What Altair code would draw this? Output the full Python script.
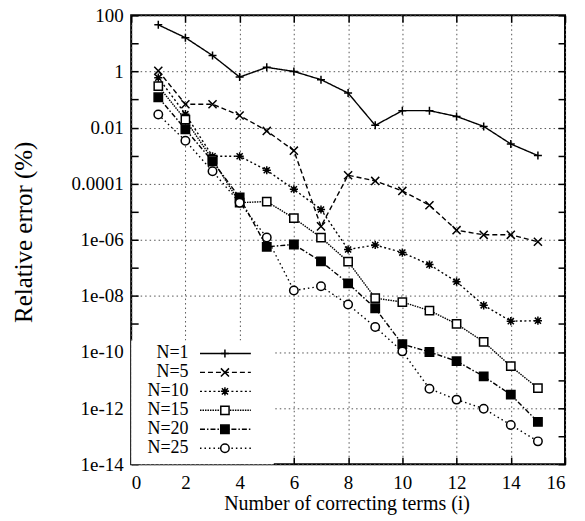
import altair as alt
import pandas as pd

# ---------------- data ----------------
terms = list(range(1, 16))
series_labels = ["N=1", "N=5", "N=10", "N=15", "N=20", "N=25"]

err_n1 = [46, 16, 3.7, 0.63, 1.4, 1.0, 0.51, 0.17, 0.012, 0.04, 0.04, 0.025, 0.011, 0.0026, 0.001]
err_n5 = [1.05, 0.068, 0.068, 0.027, 0.0076, 0.0015, 3.0e-6, 2.0e-4, 1.25e-4, 5.5e-5, 1.7e-5, 2.2e-6, 1.5e-6, 1.5e-6, 8.5e-7]
err_n10 = [0.6, 0.03, 9.5e-4, 9.5e-4, 3.0e-4, 6.3e-5, 1.2e-5, 4.5e-7, 6.5e-7, 3.5e-7, 1.3e-7, 3.2e-8, 4.6e-9, 1.25e-9, 1.3e-9]
err_n15 = [0.3, 0.019, 7.2e-4, 2.1e-5, 2.3e-5, 5.9e-6, 1.2e-6, 1.66e-7, 8.3e-9, 6.0e-9, 3.0e-9, 1.0e-9, 2.3e-10, 3.1e-11, 5.1e-12]
err_n20 = [0.12, 0.0087, 6.3e-4, 3.2e-5, 5.6e-7, 6.8e-7, 1.7e-7, 2.8e-8, 3.6e-9, 1.9e-10, 1.0e-10, 4.7e-11, 1.35e-11, 3.0e-12, 3.2e-13]
err_n25 = [0.029, 0.0034, 2.75e-4, 2.1e-5, 1.2e-6, 1.55e-8, 2.2e-8, 4.9e-9, 7.8e-10, 1.05e-10, 4.9e-12, 2.0e-12, 9.5e-13, 2.5e-13, 6.5e-14]

x_ticks = [0, 2, 4, 6, 8, 10, 12, 14, 16]
y_major = [1e2, 1e0, 1e-2, 1e-4, 1e-6, 1e-8, 1e-10, 1e-12, 1e-14]
y_minor = [1e2, 1e1, 1e0, 1e-1, 1e-2, 1e-3, 1e-4, 1e-5, 1e-6, 1e-7, 1e-8,
           1e-9, 1e-10, 1e-11, 1e-12, 1e-13, 1e-14]

all_series = [err_n1, err_n5, err_n10, err_n15, err_n20, err_n25]
rows = []
for lab, vals in zip(series_labels, all_series):
    for i, v in zip(terms, vals):
        rows.append({"series": lab, "i": i, "err": v})
df = pd.DataFrame(rows)
legend_df = pd.DataFrame({"series": series_labels})

# ---------------- styles ----------------
W, H = 435, 450
FONT = "Liberation Serif"

PLUS = "M-1,0H1M0,-1V1"
CROSS = "M-1,-1L1,1M-1,1L1,-1"
STAR = "M-1,0H1M0,-1V1M-0.75,-0.75L0.75,0.75M-0.75,0.75L0.75,-0.75"

xs = alt.Scale(domain=[0, 16], nice=False, zero=False)
ys = alt.Scale(type="log", domain=[1e-14, 100], nice=False)
dash_scale = alt.Scale(domain=series_labels,
                       range=[[1, 0], [5, 3], [2, 2.5], [1.5, 1], [5, 2, 1.5, 2], [1.5, 3]])
shape_scale = alt.Scale(domain=series_labels,
                        range=[PLUS, CROSS, STAR, "square", "square", "circle"])
fill_scale = alt.Scale(domain=series_labels,
                       range=["white", "white", "white", "white", "black", "white"])
size_scale = alt.Scale(domain=series_labels, range=[64, 72, 64, 49, 42, 40])

label_expr = ("datum.value >= 0.00009 ? format(datum.value, '') : "
              "'1e-' + (round(-log(datum.value)/LN10) < 10 ? '0' : '') + round(-log(datum.value)/LN10)")

tick_common = dict(labels=False, grid=False, domain=False, ticks=True, tickSize=7,
                   tickWidth=1.5, tickColor="black", title=None)

# main axes: labels + grid
x_main = alt.Axis(orient="bottom", values=x_ticks, format="d", grid=True, gridDash=[1.5, 3],
                  gridColor="#555555", gridWidth=1, ticks=False, tickSize=0, domain=False,
                  labelPadding=9, labelFont=FONT, labelFontSize=19, labelColor="black",
                  title="Number of correcting terms (i)", titleFont=FONT, titleFontSize=20,
                  titleFontWeight="normal", titleColor="black",
                  titleX=216, titleY=45.5, titleAlign="center", titleBaseline="alphabetic")
y_main = alt.Axis(orient="left", values=y_major, labelExpr=label_expr, grid=True, gridDash=[1.5, 3],
                  gridColor="#555555", gridWidth=1, ticks=False, tickSize=0, domain=False,
                  labelPadding=8, labelFont=FONT, labelFontSize=19, labelColor="black",
                  title="Relative error (%)", titleFont=FONT, titleFontSize=25,
                  titleFontWeight="normal", titleColor="black",
                  titleX=-99.5, titleY=217, titleAlign="center", titleBaseline="alphabetic")

# inward ticks: bottom & left edges
x_in_bottom = alt.Axis(orient="top", offset=-H, values=x_ticks, **tick_common)
y_in_left = alt.Axis(orient="right", offset=-W, values=y_minor, **tick_common)
# inward ticks: top & right edges
x_in_top = alt.Axis(orient="bottom", offset=-H, values=x_ticks, **tick_common)
y_in_right = alt.Axis(orient="left", offset=-W, values=y_minor, **tick_common)

# legend background (covers grid)
legend_bg = alt.Chart(pd.DataFrame({"k": [0]})).mark_rect(fill="white").encode(
    x=alt.value(0), x2=alt.value(143), y=alt.value(326), y2=alt.value(H)
)

lines = alt.Chart(df).mark_line(color="black", strokeWidth=1.4).encode(
    x=alt.X("i:Q", scale=xs, axis=x_main),
    y=alt.Y("err:Q", scale=ys, axis=y_main),
    strokeDash=alt.StrokeDash("series:N", scale=dash_scale, legend=None),
    detail="series:N",
)

points = alt.Chart(df).mark_point(stroke="black", strokeWidth=1.5, opacity=1).encode(
    x=alt.X("i:Q", scale=xs, axis=x_in_bottom),
    y=alt.Y("err:Q", scale=ys, axis=y_in_left),
    shape=alt.Shape("series:N", scale=shape_scale, legend=None),
    fill=alt.Fill("series:N", scale=fill_scale, legend=None),
    size=alt.Size("series:N", scale=size_scale, legend=None),
)

ticks_other = alt.Chart(df).mark_point(opacity=0).encode(
    x=alt.X("i:Q", scale=xs, axis=x_in_top),
    y=alt.Y("err:Q", scale=ys, axis=y_in_right),
)

main = alt.layer(legend_bg, lines, points, ticks_other).resolve_axis(x="independent", y="independent")

# custom gnuplot-style legend (label, then line sample with marker)
leg_y = alt.Y("series:N", scale=alt.Scale(type="point", domain=series_labels, range=[339, 434], padding=0),
              axis=None)
leg_rule = alt.Chart(legend_df).mark_rule(color="black", strokeWidth=1.4).encode(
    x=alt.value(69), x2=alt.value(120), y=leg_y,
    strokeDash=alt.StrokeDash("series:N", scale=dash_scale, legend=None),
)
leg_pts = alt.Chart(legend_df).mark_point(stroke="black", strokeWidth=1.5, opacity=1).encode(
    x=alt.value(94), y=leg_y,
    shape=alt.Shape("series:N", scale=shape_scale, legend=None),
    fill=alt.Fill("series:N", scale=fill_scale, legend=None),
    size=alt.Size("series:N", scale=size_scale, legend=None),
)
leg_text = alt.Chart(legend_df).mark_text(align="right", baseline="middle", font=FONT,
                                          fontSize=18, color="black").encode(
    x=alt.value(57.5), y=leg_y, text="series:N"
)
legend = alt.layer(leg_rule, leg_pts, leg_text)

chart = alt.layer(main, legend).resolve_scale(y="independent").properties(
    width=W, height=H,
    autosize=alt.AutoSizeParams(type="none"),
    padding={"left": 123.5, "top": 6.7, "right": 12, "bottom": 52},
    background="white",
).configure_view(stroke="black", strokeWidth=2)

chart.save("out.html", embed_options={"renderer": "svg", "actions": False})
